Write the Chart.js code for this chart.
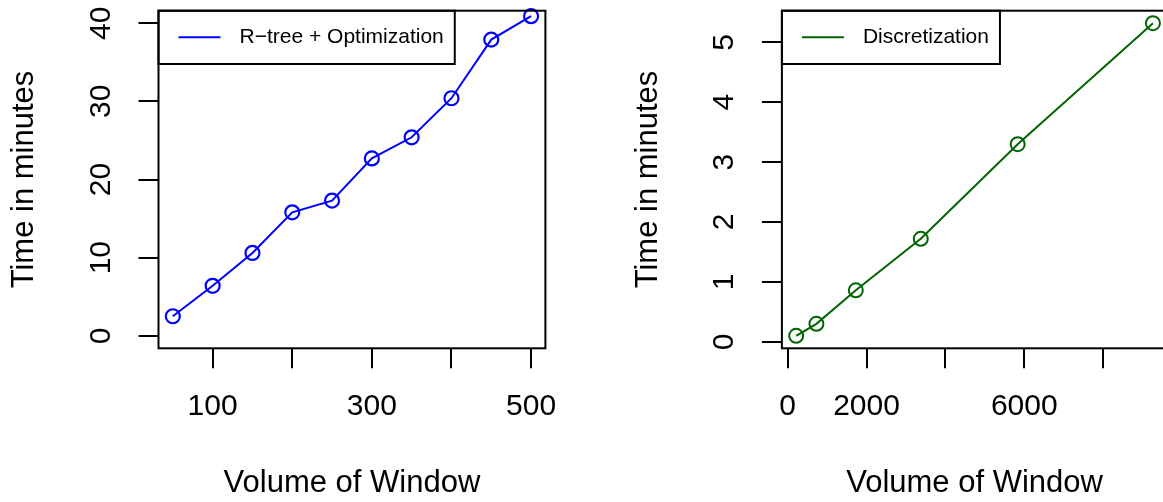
<!DOCTYPE html>
<html>
<head>
<meta charset="utf-8">
<title>Time in minutes vs Volume of Window</title>
<script src="https://cdn.jsdelivr.net/npm/chart.js@4.4.1/dist/chart.umd.min.js"></script>
<style>
  html, body { margin: 0; padding: 0; background: #fff; overflow: hidden; }
  body { width: 1163px; height: 502px; position: relative; }
  #left { position: absolute; left: 0; top: 0; }
  /* right panel is a bit wider than the window, its frame runs off the edge */
  #right { position: absolute; left: 581px; top: 0; }
</style>
</head>
<body>
<canvas id="left" width="581" height="502"></canvas>
<canvas id="right" width="600" height="502"></canvas>
<script>
// left panel: R-tree + Optimization
const rtreeVolume = [50, 100, 150, 200, 250, 300, 350, 400, 450, 500];
const rtreeTime = [2.5, 6.4, 10.6, 15.8, 17.3, 22.7, 25.4, 30.4, 37.9, 40.9];
const rtreeXTicks = [100, 200, 300, 400, 500];
const rtreeXLabels = [100, 300, 500];
const rtreeYTicks = [0, 10, 20, 30, 40];

// right panel: Discretization
const discVolume = [216, 729, 1728, 3375, 5832, 9261];
const discTime = [0.1, 0.3, 0.86, 1.72, 3.3, 5.32];
const discXTicks = [0, 2000, 4000, 6000, 8000];
const discXLabels = [0, 2000, 6000];
const discYTicks = [0, 1, 2, 3, 4, 5];

const FAMILY = "'Liberation Sans', Arial, Helvetica, sans-serif";
const TICK_FONT = { family: FAMILY, size: 30 };
const TITLE_FONT = { family: FAMILY, size: 31 };
const FRAME_WIDTH = 2;

// R pads the data range by 4% on each side (xaxs = "r")
function rRange(lo, hi) {
  const d = (hi - lo) * 0.04;
  return [lo - d, hi + d];
}

// box around the plot region + legend in the top left corner
const rFrame = {
  id: "rFrame",
  afterDraw(chart, args, opts) {
    const { ctx, chartArea: a } = chart;
    ctx.save();
    ctx.strokeStyle = "#000";
    ctx.lineWidth = FRAME_WIDTH;
    ctx.strokeRect(a.left, a.top, a.right - a.left, a.bottom - a.top);

    ctx.font = "21px " + FAMILY;
    const w = 81 + ctx.measureText(opts.text).width + 11;
    const h = 53.3;
    const mid = a.top + 26.6;
    ctx.strokeRect(a.left, a.top, w, h);

    ctx.strokeStyle = opts.color;
    ctx.lineWidth = opts.lineWidth;
    ctx.beginPath();
    ctx.moveTo(a.left + 20, mid);
    ctx.lineTo(a.left + 62, mid);
    ctx.stroke();

    ctx.fillStyle = "#000";
    ctx.textAlign = "left";
    ctx.textBaseline = "middle";
    ctx.fillText(opts.text, a.left + 81, mid);
    ctx.restore();
  },
};

function makePanel(id, p) {
  const tickGrid = {
    drawOnChartArea: false,
    drawTicks: true,
    tickLength: 20,
    color: "#000",
    lineWidth: FRAME_WIDTH,
  };

  return new Chart(document.getElementById(id), {
    type: "scatter",
    data: {
      datasets: [
        {
          label: p.label,
          data: p.xs.map((x, i) => ({ x: x, y: p.ys[i] })),
          showLine: true,
          borderColor: p.color,
          borderWidth: p.lineWidth,
          pointRadius: 7,
          pointHoverRadius: 7,
          pointBorderWidth: p.pointWidth,
          pointBorderColor: p.color,
          pointBackgroundColor: "rgba(0,0,0,0)",
          clip: false,
        },
      ],
    },
    options: {
      responsive: false,
      animation: false,
      events: [],
      layout: {
        padding: { left: 0, top: 10.7, right: p.rightPad, bottom: 0 },
      },
      plugins: {
        legend: { display: false },
        tooltip: { enabled: false },
        rFrame: { text: p.label, color: p.color, lineWidth: p.lineWidth },
      },
      scales: {
        x: {
          type: "linear",
          min: p.xLim[0],
          max: p.xLim[1],
          afterBuildTicks: (s) => {
            s.ticks = p.xTicks.map((v) => ({ value: v }));
          },
          afterFit: (s) => {
            s.height = 502 - 348.3;
            s.paddingLeft = 0;
            s.paddingRight = 0;
          },
          grid: tickGrid,
          border: { display: false },
          ticks: {
            autoSkip: false,
            minRotation: 0,
            maxRotation: 0,
            padding: 20.7,
            color: "#000",
            font: TICK_FONT,
            callback: (v) => (p.xLabels.includes(v) ? String(v) : ""),
          },
          title: {
            display: true,
            text: "Volume of Window",
            color: "#000",
            font: TITLE_FONT,
            padding: { top: 0, bottom: 0.4 },
          },
        },
        y: {
          type: "linear",
          min: p.yLim[0],
          max: p.yLim[1],
          afterBuildTicks: (s) => {
            s.ticks = p.yTicks.map((v) => ({ value: v }));
          },
          afterFit: (s) => {
            s.width = p.plotLeft;
            s.paddingTop = 0;
            s.paddingBottom = 0;
          },
          grid: tickGrid,
          border: { display: false },
          ticks: {
            autoSkip: false,
            // labels run along the axis like R's las = 0
            minRotation: 90,
            maxRotation: 90,
            crossAlign: "center",
            padding: p.yLabelPad,
            color: "#000",
            font: TICK_FONT,
          },
          title: {
            display: true,
            text: "Time in minutes",
            color: "#000",
            font: TITLE_FONT,
            padding: { top: p.yTitlePad, bottom: 0 },
          },
        },
      },
    },
    plugins: [rFrame],
  });
}

makePanel("left", {
  label: "R\u2212tree + Optimization",
  color: "#0000ff",
  xs: rtreeVolume,
  ys: rtreeTime,
  xTicks: rtreeXTicks,
  xLabels: rtreeXLabels,
  yTicks: rtreeYTicks,
  xLim: rRange(50, 500),
  yLim: rRange(0, 40),
  lineWidth: 2,
  pointWidth: 2.2,
  plotLeft: 158.5,
  rightPad: 35.6,
  yLabelPad: 19.8,
  yTitlePad: 6,
});

makePanel("right", {
  label: "Discretization",
  color: "#006400",
  xs: discVolume,
  ys: discTime,
  xTicks: discXTicks,
  xLabels: discXLabels,
  yTicks: discYTicks,
  xLim: rRange(Math.min(...discVolume), Math.max(...discVolume)),
  yLim: rRange(Math.min(...discTime), Math.max(...discTime)),
  lineWidth: 2,
  pointWidth: 2,
  plotLeft: 200.9,
  rightPad: 13.8,
  yLabelPad: 29.2,
  yTitlePad: 48.9,
});
</script>
</body>
</html>
